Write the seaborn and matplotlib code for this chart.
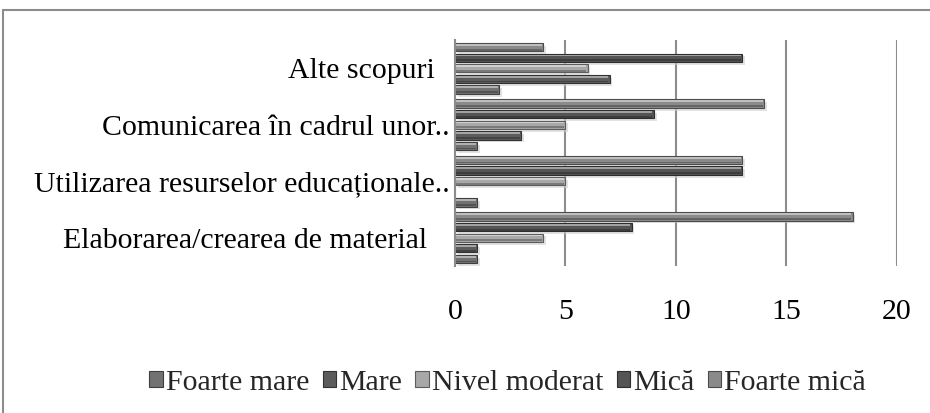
import matplotlib.pyplot as plt
import seaborn as sns
import pandas as pd
from matplotlib.patches import Rectangle, Patch
from matplotlib.lines import Line2D
from matplotlib.colors import to_rgb

categories = ['Alte scopuri', 'Comunicarea în cadrul unor..',
              'Utilizarea resurselor educaționale..', 'Elaborarea/crearea de material']
tick_labels = ['Alte scopuri  ', 'Comunicarea în cadrul unor..',
               'Utilizarea resurselor educaționale..', 'Elaborarea/crearea de material   ']
series = ['Foarte mare', 'Mare', 'Nivel moderat', 'Mică', 'Foarte mică']

# values per category, top to bottom: Alte, Comunicarea, Utilizarea, Elaborarea
foarte_mare = [2, 1, 1, 1]
mare = [7, 3, 0, 1]
nivel_moderat = [6, 5, 5, 4]
mica = [13, 9, 13, 8]
foarte_mica = [4, 14, 13, 18]

colors = ['#727272', '#5c5c5c', '#a8a8a8', '#545454', '#8a8a8a']

rows = []
for name, vals in zip(series, [foarte_mare, mare, nivel_moderat, mica, foarte_mica]):
    for cat, v in zip(categories, vals):
        rows.append({'category': cat, 'series': name, 'value': v})
df = pd.DataFrame(rows)

sns.set_style('white')
plt.rcParams['font.family'] = ['Liberation Serif', 'DejaVu Serif']
FS = 21.5

fig = plt.figure(figsize=(9.3, 4.13), dpi=100)
ax = fig.add_axes([0.4892, 0.356, 0.4753, 0.547])

# Excel draws the first series at the bottom of each group
order = series[::-1]
pal = dict(zip(series, colors))
sns.barplot(data=df, x='value', y='category', hue='series', order=categories,
            hue_order=order, palette=pal, orient='h', width=0.94, gap=0.22,
            saturation=1, legend=False, ax=ax)

# bevel look: dark outline, light strip on top, soft shadow
for p in list(ax.patches):
    x, y, w, h = p.get_x(), p.get_y(), p.get_width(), p.get_height()
    if w <= 0:
        continue
    base = to_rgb(p.get_facecolor())
    dark = tuple(c * 0.55 for c in base)
    light = tuple(min(1, c + (1 - c) * 0.45) for c in base)
    p.set_edgecolor(dark)
    p.set_linewidth(0.8)
    p.set_zorder(3)
    ax.add_patch(Rectangle((x + 0.12, y + 0.05), w, h, facecolor='#d0d0d0',
                           edgecolor='none', alpha=0.6, zorder=2))
    ax.add_patch(Rectangle((x + 0.05, y + h * 0.12), max(w - 0.12, 0), h * 0.22,
                           facecolor=light, edgecolor='none', zorder=4))
    ax.add_patch(Rectangle((x + 0.05, y + h * 0.7), max(w - 0.12, 0), h * 0.22,
                           facecolor=dark, edgecolor='none', alpha=0.6, zorder=4))

ax.set_xlim(0, 20)
ax.set_xticks([0, 5, 10, 15, 20])
ax.set_yticks(range(len(categories)))
ax.set_yticklabels(tick_labels)
ax.set_xlabel('')
ax.set_ylabel('')
ax.tick_params(axis='both', length=0, labelsize=FS, colors='black')
ax.tick_params(axis='x', pad=24)
ax.tick_params(axis='y', pad=4)
ax.xaxis.grid(True, color='#8c8c8c', linewidth=1.5)
ax.yaxis.grid(False)
ax.set_axisbelow(True)
for s in ['top', 'right', 'bottom']:
    ax.spines[s].set_visible(False)
ax.spines['left'].set_color('#8c8c8c')
ax.spines['left'].set_linewidth(1.5)
ax.spines['left'].set_zorder(5)

handles = [Patch(facecolor=c, edgecolor=tuple(v * 0.55 for v in to_rgb(c)), linewidth=0.8)
           for c in colors]
fig.legend(handles, series, loc='center', bbox_to_anchor=(0.546, 1 - 383 / 413),
           ncol=5, frameon=False, fontsize=FS, handlelength=0.45, handleheight=0.45,
           handletextpad=0.1, columnspacing=0.45)

# outer chart border (top and left edges visible)
top = 1 - 10 / 413
left = 3 / 930
fig.add_artist(Line2D([left, 1], [top, top], color='#8c8c8c', lw=1.5, transform=fig.transFigure))
fig.add_artist(Line2D([left, left], [0, top], color='#8c8c8c', lw=1.5, transform=fig.transFigure))

fig.savefig('out.png', dpi=100)
